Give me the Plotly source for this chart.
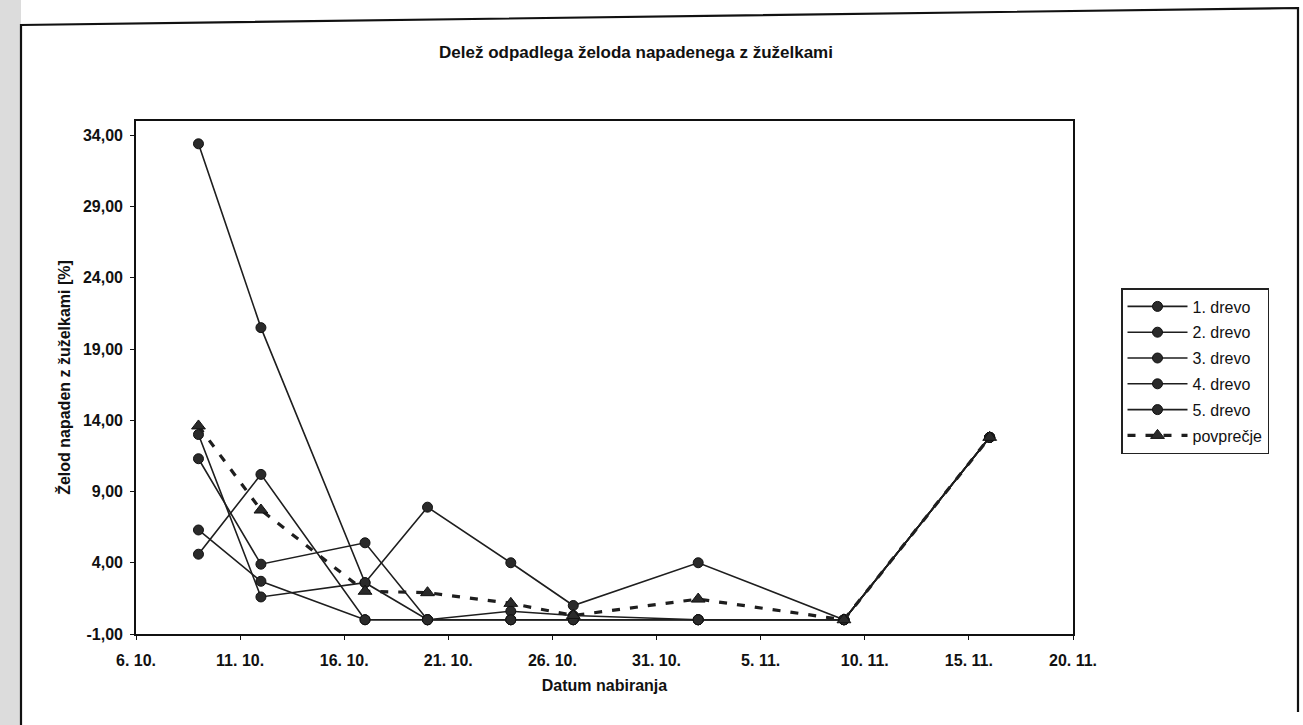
import plotly.graph_objects as go

# ---------------- data ----------------
dates = ["2003-10-09", "2003-10-12", "2003-10-17", "2003-10-20", "2003-10-24",
         "2003-10-27", "2003-11-02", "2003-11-09", "2003-11-16"]
tree1 = [33.4, 20.5, 2.6, 7.9, 4.0, 1.0, 4.0, 0.0, 12.8]
tree2 = [13.0, 1.6, 2.6, 0.0, 0.0, 0.0, 0.0, 0.0, 12.8]
tree3 = [11.3, 3.9, 5.4, 0.0, 0.0, 0.0, 0.0, 0.0, 12.8]
tree4 = [6.3, 2.7, 0.0, 0.0, 0.6, 0.3, 0.0, 0.0, 12.8]
tree5 = [4.6, 10.2, 0.0, 0.0, 0.0, 0.0, 0.0, 0.0, 12.8]
average = [13.6, 7.7, 2.0, 1.9, 1.15, 0.3, 1.45, 0.0, 12.8]
series_names = ["1. drevo", "2. drevo", "3. drevo", "4. drevo", "5. drevo", "povprečje"]

x_tickvals = ["2003-10-06", "2003-10-11", "2003-10-16", "2003-10-21", "2003-10-26",
              "2003-10-31", "2003-11-05", "2003-11-10", "2003-11-15", "2003-11-20"]
x_ticktext = ["6. 10.", "11. 10.", "16. 10.", "21. 10.", "26. 10.",
              "31. 10.", "5. 11.", "10. 11.", "15. 11.", "20. 11."]
y_tickvals = [-1, 4, 9, 14, 19, 24, 29, 34]
y_ticktext = ["-1,00", "4,00", "9,00", "14,00", "19,00", "24,00", "29,00", "34,00"]

# ---------------- layout constants ----------------
W, H = 1303, 725
L, R, T, B = 136, 1073, 121, 634
FONT = "Liberation Sans, Arial, sans-serif"
INK = "#1e1e1e"

fig = go.Figure()
for i, (name, vals) in enumerate(zip(series_names[:5], [tree1, tree2, tree3, tree4, tree5])):
    fig.add_trace(go.Scatter(
        x=dates, y=vals, name=name, mode="lines+markers", legendgroup=f"g{i}",
        line=dict(color=INK, width=1.6),
        marker=dict(symbol="circle", size=10, color="#2a2a2a",
                    line=dict(color="#111", width=1)),
    ))
fig.add_trace(go.Scatter(
    x=dates, y=average, name=series_names[5], mode="lines+markers", legendgroup="g5",
    line=dict(color=INK, width=3.2, dash="8px,10px"),
    marker=dict(symbol="triangle-up", size=12, color="#2a2a2a",
                line=dict(color="#111", width=1)),
))


def px(xp):
    return (xp - L) / (R - L)


def py(yp):
    return (B - yp) / (B - T)


shapes = [
    # scan grey strip on the far left
    dict(type="rect", xref="paper", yref="paper", x0=px(0), x1=px(21), y0=py(H), y1=py(0),
         fillcolor="#dcdcdc", line=dict(width=0), layer="below"),
    # chart area border (slightly skewed scan)
    dict(type="path", xref="paper", yref="paper",
         path=f"M {px(21)},{py(H)} L {px(21)},{py(25)} L {px(1298)},{py(8)} L {px(1298)},{py(712)}",
         line=dict(color="#111", width=2.2)),
]

fig.update_layout(
    width=W, height=H,
    margin=dict(l=L, r=W - R, t=T, b=H - B),
    paper_bgcolor="white", plot_bgcolor="white",
    font=dict(family=FONT, color="#111", size=15),
    title=dict(text="Delež odpadlega želoda napadenega z žuželkami",
               x=px(636), xref="paper", xanchor="center",
               y=1 - 52 / H, yanchor="middle",
               font=dict(family=FONT, size=17, weight="bold", color="#111")),
    xaxis=dict(type="date", range=["2003-10-06", "2003-11-20"],
               tickvals=x_tickvals, ticktext=x_ticktext,
               showgrid=False, zeroline=False,
               showline=True, linecolor="#111", linewidth=1.6, mirror=True,
               ticks="outside", ticklen=4, tickcolor="#111",
               ticklabelstandoff=7,
               tickfont=dict(family=FONT, size=16, weight="bold"),
               title=dict(text="Datum nabiranja", standoff=12,
                          font=dict(family=FONT, size=16, weight="bold"))),
    yaxis=dict(range=[-1, 35], tickvals=y_tickvals, ticktext=y_ticktext,
               showgrid=False, zeroline=False,
               showline=True, linecolor="#111", linewidth=1.6, mirror=True,
               ticks="outside", ticklen=4, tickcolor="#111",
               ticklabelstandoff=4,
               tickfont=dict(family=FONT, size=16, weight="bold"),
               title=dict(text="Želod napaden z žuželkami [%]", standoff=8,
                          font=dict(family=FONT, size=16, weight="bold"))),
    legend=dict(x=px(1121), y=py(288), xanchor="left", yanchor="top",
                bgcolor="white", bordercolor="#222", borderwidth=1.5,
                font=dict(family=FONT, size=16, color="#111"),
                itemwidth=60, tracegroupgap=2),
    shapes=shapes,
    showlegend=True,
)

fig.write_html("out.html")
